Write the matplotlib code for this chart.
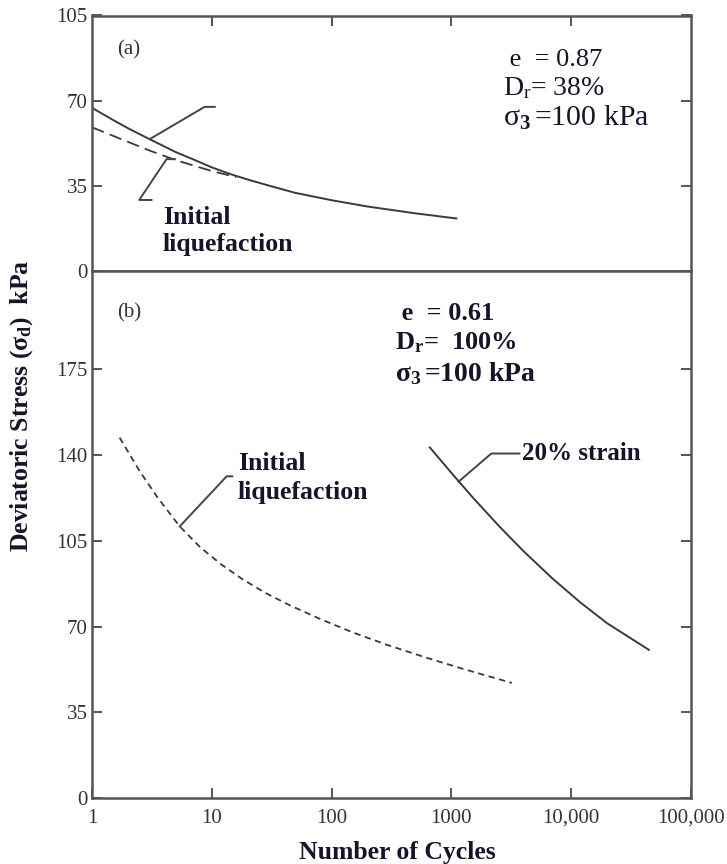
import matplotlib
matplotlib.use("Agg")
import matplotlib.pyplot as plt

plt.rcParams['font.family'] = ['Liberation Serif', 'DejaVu Serif']
plt.rcParams['mathtext.fontset'] = 'custom'
plt.rcParams['mathtext.rm'] = 'Liberation Serif'
plt.rcParams['mathtext.bf'] = 'Liberation Serif:bold'
plt.rcParams['mathtext.it'] = 'Liberation Serif:italic'

# ---------------- data ----------------
# Panel (a): loose sand
a_solid_cycles = [1, 1.5, 2, 3, 5, 7, 10, 15, 20, 30, 50, 100, 200, 500, 1100]
a_solid_stress = [67, 62, 58.6, 54.2, 48.8, 45.8, 42.5, 39.4, 37.5, 35, 32, 29, 26.4,
                  23.6, 21.5]
a_dash_cycles = [1, 2, 3, 5, 10, 16]
a_dash_stress = [59, 53, 49.5, 45.5, 41, 38.5]

# Panel (b): dense sand
b_dash_cycles = [1.7, 2.5, 3.5, 5.4, 8, 12, 18, 28, 45, 80, 150, 300, 600, 1200, 3200]
b_dash_stress = [147, 133.3, 122.8, 110.8, 102.3, 95.3, 89.3, 83.7, 78.6, 73.1, 67.6,
                 62.3, 57.5, 53, 47]
b_solid_cycles = [660, 1000, 1500, 2500, 4000, 7000, 12000, 20000, 44500]
b_solid_stress = [143, 132.6, 122.7, 110.9, 100.7, 89.5, 79.7, 71.3, 60.5]

# annotation leader lines
lead_a1_x = [3.05, 8.7, 10.6]
lead_a1_y = [54.2, 67.4, 67.4]
lead_a2_x = [4.92, 4.19, 2.48, 3.14]
lead_a2_y = [45.9, 45.9, 29.1, 29.1]
lead_b1_x = [5.4, 13.3, 14.8]
lead_b1_y = [110.8, 131.2, 131.2]
lead_b2_x = [1146, 2154, 3700]
lead_b2_y = [129, 140.5, 140.5]

x_ticks = [1, 10, 100, 1000, 10000, 100000]
x_ticklabels = ['1', '10', '100', '1000', '10,000', '100,000']
a_yticks = [0, 35, 70, 105]
b_yticks = [0, 35, 70, 105, 140, 175]

# ---------------- figure ----------------
fig = plt.figure(figsize=(7.27, 8.64), dpi=100)
W, H = 727, 864
L, R = 92, 691
top_a, mid, bot_b = 15.5, 270.7, 798.3
ax1 = fig.add_axes([L / W, 1 - mid / H, (R - L) / W, (mid - top_a) / H])
ax2 = fig.add_axes([L / W, 1 - bot_b / H, (R - L) / W, (bot_b - mid) / H])

spine_c = '#555555'
line_c = '#3a3a3a'
text_c = '#14142a'
tick_c = '#333333'

for ax in (ax1, ax2):
    ax.set_xscale('log')
    ax.set_xlim(1, 100000)
    for s in ax.spines.values():
        s.set_color(spine_c)
        s.set_linewidth(1.8)
    ax.minorticks_off()
    ax.tick_params(which='both', direction='in', length=7, width=1.4,
                   color=spine_c, labelcolor=tick_c, labelsize=15)

# panel a
ax1.set_ylim(0, 105)
ax1.set_yticks(a_yticks)
ax1.set_yticklabels([str(v) for v in a_yticks])
ax1.set_xticks([10, 100, 1000, 10000])
ax1.tick_params(axis='x', bottom=False, top=True, labelbottom=False)
ax1.tick_params(axis='y', left=True, right=True, pad=3)

ax1.plot(a_solid_cycles, a_solid_stress, color=line_c, lw=1.4)
ax1.plot(a_dash_cycles, a_dash_stress, color=line_c, lw=1.3, dashes=(7, 3.5))
ax1.plot(lead_a1_x, lead_a1_y, color='#444444', lw=1.4)
ax1.plot(lead_a2_x, lead_a2_y, color='#444444', lw=1.4)

ax1.text(1.615, 90.8, '(a)', fontsize=15, color=tick_c, ha='left', va='center')
ax1.text(3.9, 21.7, 'Initial', fontsize=18.5, fontweight='bold', color=text_c,
         ha='left', va='center')
ax1.text(3.9, 10.6, 'liquefaction', fontsize=18.5, fontweight='bold', color=text_c,
         ha='left', va='center')
ax1.text(2710, 86.7, ' e  = 0.87', fontsize=19, color=text_c, ha='left', va='center')
ax1.text(2710, 75.2, r'D$_\mathrm{r}$= 38%', fontsize=20, color=text_c,
         ha='left', va='center')
ax1.text(2710, 62.8, r'σ$_\mathbf{3}\,$=100 kPa', fontsize=21.5, color=text_c,
         ha='left', va='center')

# panel b
ax2.set_ylim(0, 215)
ax2.set_yticks(b_yticks)
ax2.set_yticklabels([str(v) for v in b_yticks])
ax2.set_xticks(x_ticks)
ax2.set_xticklabels(x_ticklabels)
ax2.tick_params(axis='y', left=True, right=True, pad=3)
ax2.tick_params(axis='x', bottom=True, top=False, pad=7.5)

ax2.plot(b_dash_cycles, b_dash_stress, color=line_c, lw=1.3, dashes=(3.5, 2.5))
ax2.plot(b_solid_cycles, b_solid_stress, color=line_c, lw=1.4)
ax2.plot(lead_b1_x, lead_b1_y, color='#444444', lw=1.4)
ax2.plot(lead_b2_x, lead_b2_y, color='#444444', lw=1.4)

ax2.text(1.615, 197.9, '(b)', fontsize=15, color=tick_c, ha='left', va='center')
ax2.text(16.5, 136.5, 'Initial', fontsize=18.5, fontweight='bold', color=text_c,
         ha='left', va='center')
ax2.text(16.5, 124.7, 'liquefaction', fontsize=18.5, fontweight='bold', color=text_c,
         ha='left', va='center')
ax2.text(3900, 140.5, '20% strain', fontsize=18, fontweight='bold', color=text_c,
         ha='left', va='center')
ax2.text(335, 197.7, ' e  = 0.61', fontsize=19, fontweight='bold', color=text_c,
         ha='left', va='center')
ax2.text(335, 185.5, r'D$_\mathbf{r}$=  100%', fontsize=19, fontweight='bold',
         color=text_c, ha='left', va='center')
ax2.text(335, 173.1, r'σ$_\mathbf{3}\,$=100 kPa', fontsize=20, fontweight='bold',
         color=text_c, ha='left', va='center')

# axis labels
fig.text(397 / W, 1 - 852 / H, 'Number of Cycles', fontsize=18.5, fontweight='bold',
         color=text_c, ha='center', va='center')
fig.text(22 / W, 1 - 406 / H, r'Deviatoric Stress (σ$_\mathbf{d}$)  kPa', fontsize=18.5,
         fontweight='bold', color=text_c, ha='center', va='center', rotation=90)

fig.savefig('out.png', dpi=100)
